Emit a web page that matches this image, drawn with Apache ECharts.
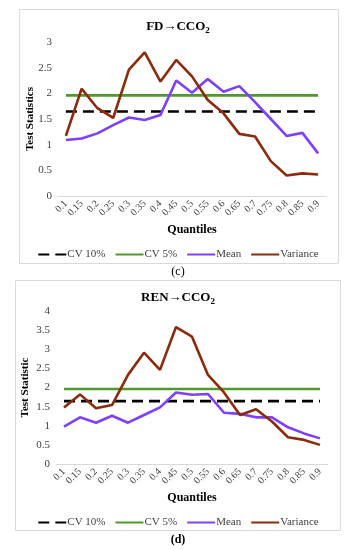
<!DOCTYPE html>
<html><head><meta charset="utf-8">
<script src="https://cdn.jsdelivr.net/npm/echarts@6/dist/echarts.min.js"></script>
<style>html,body{margin:0;padding:0;background:#fff}#c{width:356px;height:550px}</style>
</head><body><div id="c"></div>
<script>
var quantiles = ['0.1','0.15','0.2','0.25','0.3','0.35','0.4','0.45','0.5','0.55','0.6','0.65','0.7','0.75','0.8','0.85','0.9'];
var yTicksTop = [0, 0.5, 1, 1.5, 2, 2.5, 3];
var yTicksBottom = [0, 0.5, 1, 1.5, 2, 2.5, 3, 3.5, 4];
// Panel (c) FD -> CCO2
var cv10Top = [1.645,1.645,1.645,1.645,1.645,1.645,1.645,1.645,1.645,1.645,1.645,1.645,1.645,1.645,1.645,1.645,1.645];
var cv5Top  = [1.96,1.96,1.96,1.96,1.96,1.96,1.96,1.96,1.96,1.96,1.96,1.96,1.96,1.96,1.96,1.96,1.96];
var meanTop = [1.09,1.12,1.22,1.38,1.53,1.48,1.58,2.25,2.01,2.28,2.03,2.14,1.83,1.5,1.17,1.23,0.83];
var varTop  = [1.17,2.09,1.71,1.52,2.46,2.8,2.23,2.65,2.33,1.87,1.61,1.21,1.16,0.68,0.4,0.44,0.42];
// Panel (d) REN -> CCO2
var cv10Bot = [1.645,1.645,1.645,1.645,1.645,1.645,1.645,1.645,1.645,1.645,1.645,1.645,1.645,1.645,1.645,1.645,1.645];
var cv5Bot  = [1.96,1.96,1.96,1.96,1.96,1.96,1.96,1.96,1.96,1.96,1.96,1.96,1.96,1.96,1.96,1.96,1.96];
var meanBot = [0.98,1.22,1.08,1.26,1.08,1.28,1.48,1.87,1.81,1.83,1.34,1.31,1.22,1.22,0.96,0.8,0.67];
var varBot  = [1.48,1.82,1.46,1.54,2.33,2.91,2.46,3.58,3.33,2.33,1.87,1.28,1.43,1.11,0.7,0.63,0.5];

var serif = "'Liberation Serif','Times New Roman',serif";
var C_CV10 = '#000000', C_CV5 = '#4e9a2a', C_MEAN = '#7f3fff', C_VAR = '#8e2a0c';
var seriesNames = ['CV 10%','CV 5%','Mean','Variance'];

function xAxisFor(gi, gap){
  return {type:'category', gridIndex:gi, data:quantiles, boundaryGap:true,
    axisLine:{lineStyle:{color:'#d9d9d9',width:1}}, axisTick:{show:false},
    axisLabel:{rotate:45, fontFamily:serif, fontSize:10, color:'#404040', margin:6, interval:0},
    name:'Quantiles', nameLocation:'middle', nameGap:gap, nameMoveOverlap:false,
    nameTextStyle:{fontFamily:serif, fontWeight:'bold', fontSize:12, color:'#000'}};
}
function yAxisFor(gi, ticks, name, gap){
  return {type:'value', gridIndex:gi, min:ticks[0], max:ticks[ticks.length-1], interval:ticks[1]-ticks[0],
    splitLine:{show:false}, axisLine:{show:false}, axisTick:{show:false},
    axisLabel:{fontFamily:serif, fontSize:11, color:'#404040', margin:6},
    name:name, nameLocation:'middle', nameGap:gap, nameMoveOverlap:false,
    nameTextStyle:{fontFamily:serif, fontWeight:'bold', fontSize:11, color:'#000'}};
}
function lineS(name, data, gi, color, dashed){
  return {name:name, type:'line', xAxisIndex:gi, yAxisIndex:gi, data:data, symbol:'none', showSymbol:false,
    lineStyle:{color:color, width:2.6, type: dashed ? [11,6] : 'solid'}, itemStyle:{color:color},
    emphasis:{disabled:true}, animation:false};
}
function legendFor(top){
  return {top:top, left:'center', itemWidth:28, itemHeight:10, itemGap:9, data:seriesNames,
    itemStyle:{opacity:0},
    textStyle:{fontFamily:serif, fontSize:11, color:'#404040', padding:[0,0,0,-4]}};
}
var titleRich = {t:{fontFamily:serif, fontWeight:'bold', fontSize:13, color:'#000'},
                 s:{fontFamily:serif, fontWeight:'bold', fontSize:9, color:'#000', verticalAlign:'bottom', padding:[8,0,0,0]}};

var option = {
  animation:false,
  title:[
    {text:'{t|FD→CCO}{s|2}', left:'center', top:13, textStyle:{rich:titleRich}},
    {text:'{t|REN→CCO}{s|2}', left:'center', top:284, textStyle:{rich:titleRich}}
  ],
  legend:[legendFor(244), legendFor(512)],
  grid:[
    {left:58, width:268, top:42, height:154},
    {left:56, width:272, top:311, height:153}
  ],
  xAxis:[xAxisFor(0, 28), xAxisFor(1, 28)],
  yAxis:[yAxisFor(0, yTicksTop, 'Test Statistics', 22), yAxisFor(1, yTicksBottom, 'Test Statistic', 25)],
  series:[
    lineS('CV 10%', cv10Top, 0, C_CV10, true),
    lineS('CV 5%', cv5Top, 0, C_CV5, false),
    lineS('Mean', meanTop, 0, C_MEAN, false),
    lineS('Variance', varTop, 0, C_VAR, false),
    lineS('CV 10%', cv10Bot, 1, C_CV10, true),
    lineS('CV 5%', cv5Bot, 1, C_CV5, false),
    lineS('Mean', meanBot, 1, C_MEAN, false),
    lineS('Variance', varBot, 1, C_VAR, false)
  ],
  graphic:[
    {type:'rect', shape:{x:19.5,y:9.5,width:319,height:254}, style:{fill:'none', stroke:'#d9d9d9', lineWidth:1}, silent:true},
    {type:'rect', shape:{x:15.5,y:280.5,width:325,height:250}, style:{fill:'none', stroke:'#d9d9d9', lineWidth:1}, silent:true},
    {type:'text', x:178, y:272, style:{text:'(c)', font:'12px '+serif, fill:'#000', textAlign:'center', textVerticalAlign:'middle'}, silent:true},
    {type:'text', x:178, y:540, style:{text:'(d)', font:'bold 12px '+serif, fill:'#000', textAlign:'center', textVerticalAlign:'middle'}, silent:true}
  ]
};
var chart = echarts.init(document.getElementById('c'), null, {renderer:'canvas'});
chart.setOption(option);
</script></body></html>
